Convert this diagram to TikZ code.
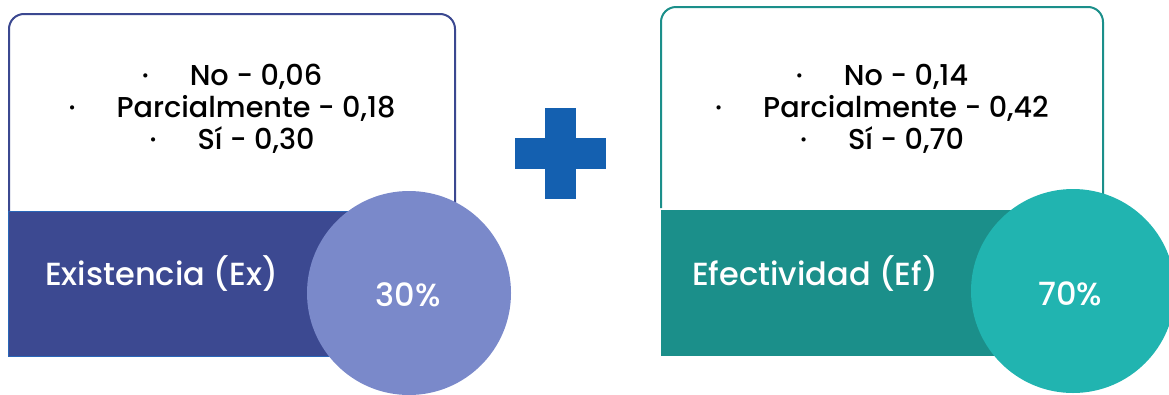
\documentclass[tikz,border=0pt]{standalone}
\usepackage{fontspec}
\setmainfont{Poppins}[UprightFont=* Medium]
\definecolor{exline}{HTML}{3B4890}
\definecolor{exband}{HTML}{3C4991}
\definecolor{exedge}{HTML}{2A66B8}
\definecolor{excircle}{HTML}{7A89CA}
\definecolor{efline}{HTML}{1B8F8A}
\definecolor{efband}{HTML}{1B8F8A}
\definecolor{efcircle}{HTML}{21B4B0}
\definecolor{plusblue}{HTML}{1460B0}
\tikzset{
  card/.style={line width=2pt,rounded corners=15pt},
  band/.style={inner sep=0pt,outer sep=0pt,minimum width=447pt,minimum height=145pt},
  badge/.style={circle,inner sep=0pt,minimum size=204pt},
  item/.style={anchor=base,inner sep=0pt,font=\fontsize{28.7}{30}\selectfont},
  title/.style={anchor=base west,inner sep=0pt,text=white,font=\fontsize{32}{34}\selectfont},
  pct/.style={anchor=base,inner sep=0pt,text=white,font=\fontsize{32}{34}\selectfont}
}
\newcommand{\itm}[1]{\textperiodcentered\hspace{41pt}#1}
\begin{document}
\begin{tikzpicture}[x=1pt,y=-1pt]
\useasboundingbox (0,0) rectangle (1169,394);
% existencia
\draw[card,exline] (9,212) -- (9,14) -- (455,14) -- (455,212);
\node[band,fill=exband,draw=exedge,line width=1pt] (exb) at (231.5,283.5) {};
\node[badge,fill=excircle] (exc) at (409,293) {};
\node[item] (ex1) at (232,85) {\itm{No - 0,06}};
\node[item] (ex2) at (232,117) {\itm{Parcialmente - 0,18}};
\node[item] (ex3) at (232,149) {\itm{Sí - 0,30}};
\node[title] (ext) at (45,285) {Existencia (Ex)};
\node[pct] (exp) at (408,306) {30\%};
% plus
\fill[plusblue] (545,108) rectangle (576,199);
\fill[plusblue] (515,138) rectangle (606,169);
% efectividad
\draw[card,efline] (661,208) -- (661,7) -- (1103,7) -- (1103,208);
\node[band,fill=efband,minimum width=442pt,minimum height=146pt] (efb) at (882,283) {};
\node[badge,fill=efcircle] (efc) at (1073,291) {};
\node[item] (ef1) at (882,85) {\itm{No - 0,14}};
\node[item] (ef2) at (882,117) {\itm{Parcialmente - 0,42}};
\node[item] (ef3) at (882,149) {\itm{Sí - 0,70}};
\node[title] (eft) at (692,285) {Efectividad (Ef)};
\node[pct] (efp) at (1070,305) {70\%};
\end{tikzpicture}
\end{document}
